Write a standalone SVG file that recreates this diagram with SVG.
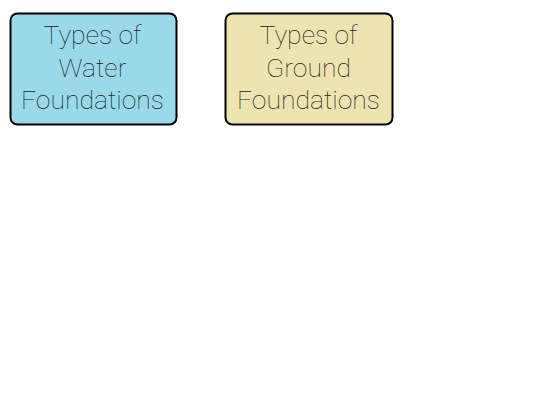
<svg xmlns="http://www.w3.org/2000/svg" width="540" height="405" viewBox="0 0 540 405">
<style>
.box{stroke:#000;stroke-width:2}
.lbl{font-family:Roboto,"Liberation Sans",sans-serif;font-weight:100;font-size:26.5px;fill:#222;text-anchor:middle}
</style>
<rect width="540" height="405" fill="#fff"/>
<g id="connectors"></g>
<g id="water">
<rect class="box" x="10.5" y="13.5" width="166" height="111" rx="7" fill="#99d9ea"/>
<text class="lbl" x="92.5" y="44">Types of</text>
<text class="lbl" x="92.5" y="76.5">Water</text>
<text class="lbl" x="92.5" y="109">Foundations</text>
</g>
<g id="ground">
<rect class="box" x="225.5" y="13.5" width="167" height="111" rx="7" fill="#efe4b0"/>
<text class="lbl" x="308.5" y="44">Types of</text>
<text class="lbl" x="308.5" y="76.5">Ground</text>
<text class="lbl" x="308.5" y="109">Foundations</text>
</g>
</svg>
